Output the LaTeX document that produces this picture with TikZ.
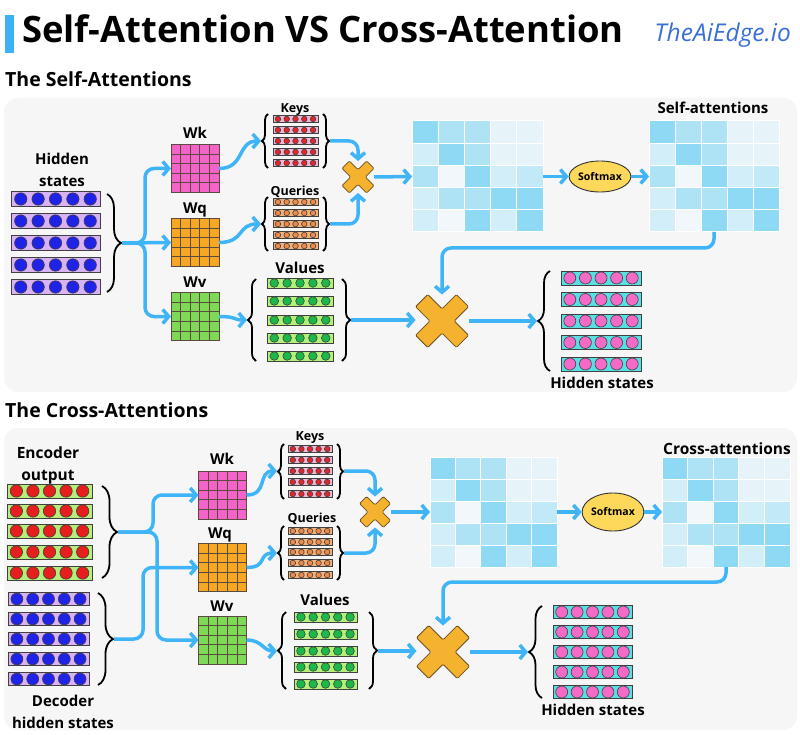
\documentclass[tikz,border=0pt]{standalone}
\usepackage{fontspec}
\setmainfont{Open Sans}
\usetikzlibrary{arrows.meta,calc,decorations.pathreplacing,shapes.geometric}
\definecolor{arrowblue}{HTML}{3FB4F6}
\definecolor{titlebar}{HTML}{3DB1F5}
\definecolor{edgeblue}{HTML}{3A6FD8}
\definecolor{panel}{HTML}{F6F6F6}
\definecolor{matline}{HTML}{5A4A40}
\definecolor{pinkmat}{HTML}{F464C8}
\definecolor{orangemat}{HTML}{F7A823}
\definecolor{greenmat}{HTML}{7ED957}
\definecolor{purplebar}{HTML}{D9B2F5}
\definecolor{bluecirc}{HTML}{1F23E8}
\definecolor{limebar}{HTML}{B5EE7A}
\definecolor{redcirc}{HTML}{E61E1E}
\definecolor{keybar}{HTML}{F0B8D6}
\definecolor{keycirc}{HTML}{E3262B}
\definecolor{qbar}{HTML}{F3B27A}
\definecolor{qcirc}{HTML}{EE8A4A}
\definecolor{vbar}{HTML}{B3F27A}
\definecolor{vcirc}{HTML}{1CB84A}
\definecolor{obar}{HTML}{58DFE3}
\definecolor{ocirc}{HTML}{F56AC6}
\definecolor{softfill}{HTML}{FDD85A}
\definecolor{xfill}{HTML}{F5B22E}
\definecolor{xdraw}{HTML}{6B5020}
\definecolor{sh0}{HTML}{E6F4F9}
\definecolor{sh1}{HTML}{D2EEF8}
\definecolor{sh2}{HTML}{AEE3F5}
\definecolor{sh3}{HTML}{8ED9F3}
\definecolor{sh4}{HTML}{F1F7FA}
\definecolor{sh5}{HTML}{C2E9F7}
% rows of vectors
\newcommand\vrow[8]{%
  \foreach \yy [count=\i] in {#5}{%
    \node[rectangle, draw=black!75, line width=0.8pt, fill=#6, minimum width=#3pt,
          minimum height=#4pt, inner sep=0pt, outer sep=0pt, anchor=west] (#1\i) at (#2,\yy) {};
    \foreach \k in {0,...,4}{%
      \filldraw[draw=black!75, line width=0.6pt, fill=#7]
        ($(#1\i.west)+({#3*(0.11+0.195*\k)},0)$) circle[radius=#8pt];
    }
  }%
}
% weight matrix
\newcommand\wmat[4]{%
  \node[wbox, fill=#4] (#1) at (#2,#3) {};
  \foreach \i in {1,...,4}{%
    \draw[matline, line width=0.8pt] ($(#1.north west)!\i/5!(#1.north east)$) -- ($(#1.south west)!\i/5!(#1.south east)$);
    \draw[matline, line width=0.8pt] ($(#1.north west)!\i/5!(#1.south west)$) -- ($(#1.north east)!\i/5!(#1.south east)$);
  }%
  \draw[matline, line width=0.9pt] (#1.north west) rectangle (#1.south east);
}
% attention matrix
\newcommand\amat[5]{%
  \node[inner sep=0pt, outer sep=0pt, minimum width=#4pt, minimum height=#5pt] (#1) at (#2,#3) {};
  \foreach \row [count=\r from 0] in {{3,2,2,0,0},{1,3,2,0,0},{2,4,3,1,5},{1,2,2,3,3},{1,4,3,1,3}}{%
    \foreach \v [count=\c from 0] in \row {%
      \filldraw[fill=sh\v, draw=white, line width=1pt]
        ($(#1.north west)+({\c*#4/5},{\r*#5/5})$) rectangle ++({#4/5},{#5/5});
    }
  }%
}
% multiplication cross
\newcommand\xmark[4]{%
  \node[circle, inner sep=0pt, outer sep=0pt, minimum size=#4pt] (#1) at (#2,#3) {};
  \pgfmathsetmacro\xs{#4/2*1.4142}
  \pgfmathsetmacro\xt{0.23*\xs}
  \pgfmathsetmacro\xl{0.77*\xs}
  \begin{scope}[shift={(#2,#3)}, rotate=45]
    \filldraw[fill=xfill, draw=xdraw, line width=0.8pt, rounded corners=1.2pt]
      (\xt,\xt) -- (\xl,\xt) -- (\xl,-\xt) -- (\xt,-\xt) -- (\xt,-\xl) -- (-\xt,-\xl) -- (-\xt,-\xt)
      -- (-\xl,-\xt) -- (-\xl,\xt) -- (-\xt,\xt) -- (-\xt,\xl) -- (\xt,\xl) -- cycle;
  \end{scope}
}
\begin{document}
\begin{tikzpicture}[x=1pt,y=-1pt,
  lbl/.style={inner sep=0pt, text height=0.72em, text depth=0pt, yshift=-2.5pt},
  arr/.style={draw=arrowblue, line width=3.5pt, rounded corners=9pt, -{Straight Barb[length=6pt,width=14pt]}},
  brc/.style={draw=black, line width=1.8pt, decorate, decoration={brace, amplitude=#1}},
  wbox/.style={rectangle, minimum width=48pt, minimum height=48pt, inner sep=0pt, outer sep=0pt},
  smx/.style={ellipse, draw=black!80, line width=0.9pt, fill=softfill, inner sep=0pt, font=\bfseries\fontsize{10.5}{12}\selectfont}
]
\useasboundingbox[fill=white] (0,0) rectangle (800,735);
% header
\fill[titlebar] (5,15) rectangle (14,53);
\node[anchor=west, lbl, font=\bfseries\fontsize{36.4}{40}\selectfont] (title) at (22,36) {Self-Attention VS Cross-Attention};
\node[anchor=east, lbl, font=\itshape\fontsize{24.5}{26}\selectfont, text=edgeblue] (brand) at (791,35) {TheAiEdge.io};
\node[anchor=west, lbl, font=\bfseries\fontsize{19.5}{21}\selectfont] (selfhead) at (5,80) {The Self-Attentions};
\node[anchor=west, lbl, font=\bfseries\fontsize{19.5}{21}\selectfont] (crosshead) at (5,411) {The Cross-Attentions};
% panels
\fill[panel, rounded corners=14pt] (4,98) rectangle (797,392);
\fill[panel, rounded corners=14pt] (4,428) rectangle (797,730);

%%%%%%%%%%%%%%%% SELF-ATTENTION %%%%%%%%%%%%%%%%
\node[lbl, font=\bfseries\fontsize{15}{17}\selectfont] (hsl1) at (62,158) {Hidden};
\node[lbl, font=\bfseries\fontsize{15}{17}\selectfont] (hsl2) at (62,180) {states};
\vrow{hs}{11}{89}{15}{199,221,243,265,287}{purplebar}{bluecirc}{6.2}
\draw[brc=14] (107,194) -- (107,292);
\coordinate (hsT) at (122,243);

\wmat{Wk}{195}{168.5}{pinkmat}
\wmat{Wq}{195}{242.5}{orangemat}
\wmat{Wv}{195}{316.5}{greenmat}
\node[lbl, font=\bfseries\fontsize{15}{17}\selectfont] (Wkl) at (195,132) {Wk};
\node[lbl, font=\bfseries\fontsize{15}{17}\selectfont] (Wql) at (195,207) {Wq};
\node[lbl, font=\bfseries\fontsize{15}{17}\selectfont] (Wvl) at (195,281) {Wv};

\draw[arr] (hsT) -- (Wq.west);
\draw[arr] (hsT) -- ++(23,0) |- (Wk.west);
\draw[arr] (hsT) -- ++(23,0) |- (Wv.west);

% keys
\node[lbl, font=\bfseries\fontsize{12.5}{14}\selectfont] (keysl) at (295,106) {Keys};
\vrow{k}{273}{45}{7}{119,130,141,152,163}{keybar}{keycirc}{2.8}
\draw[brc=6] (268,168) -- (268,114);
\draw[brc=6] (323,114) -- (323,168);
\coordinate (kL) at (261,141);
\coordinate (kR) at (330,141);
% queries
\node[lbl, font=\bfseries\fontsize{12.5}{14}\selectfont] (queriesl) at (295,189) {Queries};
\vrow{q}{273}{45}{7}{202,213,224,235,246}{qbar}{qcirc}{2.8}
\draw[brc=6] (268,251) -- (268,197);
\draw[brc=6] (323,197) -- (323,251);
\coordinate (qL) at (261,224);
\coordinate (qR) at (330,224);
% values
\node[lbl, font=\bfseries\fontsize{15}{17}\selectfont] (valuesl) at (300,267) {Values};
\vrow{v}{267}{66}{10}{283,301,320,338,356}{vbar}{vcirc}{4.3}
\draw[brc=8] (256,361) -- (256,279);
\draw[brc=8] (342,279) -- (342,361);
\coordinate (vL) at (247,320);
\coordinate (vR) at (351,320);

\draw[arr] (Wk.east) .. controls +(26,0) and +(-24,0) .. (kL);
\draw[arr] (Wq.east) .. controls +(26,0) and +(-24,0) .. (qL);
\draw[arr] (Wv.east) .. controls +(18,0) and +(-14,0) .. (vL);

\xmark{sx}{358}{177}{32}
\draw[arr] (kR) -| (sx.north);
\draw[arr] (qR) -| (sx.south);

\amat{M1}{477.5}{176.5}{131}{111}
\node[smx, minimum width=60pt, minimum height=31pt] (sm1) at (600,176.5) {Softmax};
\amat{M2}{714}{176.5}{130}{111}
\node[lbl, font=\bfseries\fontsize{15}{17}\selectfont] (sal) at (713,107) {Self-attentions};
\draw[arr] (sx.east) -- (M1.west);
\draw[arr] (M1.east) -- (sm1.west);
\draw[arr] (sm1.east) -- (M2.west);

\xmark{bx}{442}{321}{53}
\draw[arr] (M2.south) -- ++(0,16) -| (bx.north);
\draw[arr] (vR) -- (vR -| bx.west);

% output
\vrow{o}{561}{80}{14}{278,299.5,321,342.5,364}{obar}{ocirc}{6}
\draw[brc=12] (550,371) -- (550,271);
\coordinate (oT) at (537,321);
\node[lbl, font=\bfseries\fontsize{15}{17}\selectfont] (ol) at (602,382) {Hidden states};
\draw[arr] (bx.east) -- (oT);

%%%%%%%%%%%%%%%% CROSS-ATTENTION %%%%%%%%%%%%%%%%
\node[lbl, font=\bfseries\fontsize{15.5}{17}\selectfont] (enl1) at (48,452) {Encoder};
\node[lbl, font=\bfseries\fontsize{15.5}{17}\selectfont] (enl2) at (48,474) {output};
\vrow{e}{7}{85}{14}{491,511,531,552,573}{limebar}{redcirc}{6.2}
\draw[brc=15] (102,486) -- (102,578);
\coordinate (eT) at (118,532);

\vrow{d}{8}{81}{13}{599,619,639,659,679}{purplebar}{bluecirc}{6}
\draw[brc=15] (98,593) -- (98,685);
\coordinate (dT) at (114,639);
\node[lbl, font=\bfseries\fontsize{15}{17}\selectfont] (del1) at (63,700) {Decoder};
\node[lbl, font=\bfseries\fontsize{15}{17}\selectfont] (del2) at (63,722) {hidden states};

\wmat{Wk2}{222.5}{495}{pinkmat}
\wmat{Wq2}{222.5}{567.5}{orangemat}
\wmat{Wv2}{222.5}{640}{greenmat}
\node[lbl, font=\bfseries\fontsize{15}{17}\selectfont] (Wk2l) at (222,458) {Wk};
\node[lbl, font=\bfseries\fontsize{15}{17}\selectfont] (Wq2l) at (220,532) {Wq};
\node[lbl, font=\bfseries\fontsize{15}{17}\selectfont] (Wv2l) at (222,605) {Wv};

\draw[arr] (eT) -- ++(35,0) |- (Wk2.west);
\draw[arr] (eT) -- ++(39,0) |- (Wv2.west);
\draw[arr] (dT) -- ++(29,0) |- (Wq2.west);

% keys
\node[lbl, font=\bfseries\fontsize{12.5}{14}\selectfont] (keys2l) at (310,434) {Keys};
\vrow{kk}{288}{44}{7}{449,460,471,482,494}{keybar}{keycirc}{2.8}
\draw[brc=6] (284,499) -- (284,444);
\draw[brc=6] (337,444) -- (337,499);
\coordinate (k2L) at (277,471);
\coordinate (k2R) at (344,471);
% queries
\node[lbl, font=\bfseries\fontsize{12.5}{14}\selectfont] (queries2l) at (312,516) {Queries};
\vrow{qq}{288}{44}{7}{531,542,552,563,575}{qbar}{qcirc}{2.8}
\draw[brc=6] (284,580) -- (284,526);
\draw[brc=6] (337,526) -- (337,580);
\coordinate (q2L) at (277,553);
\coordinate (q2R) at (344,553);
% values
\node[lbl, font=\bfseries\fontsize{15}{17}\selectfont] (values2l) at (325,599) {Values};
\vrow{vv}{294}{63}{10}{617,634,651,667,684}{vbar}{vcirc}{4.3}
\draw[brc=8] (286,689) -- (286,612);
\draw[brc=8] (369,612) -- (369,689);
\coordinate (v2L) at (277,651);
\coordinate (v2R) at (378,651);

\draw[arr] (Wk2.east) .. controls +(22,0) and +(-20,0) .. (k2L);
\draw[arr] (Wq2.east) .. controls +(22,0) and +(-20,0) .. (q2L);
\draw[arr] (Wv2.east) .. controls +(16,0) and +(-14,0) .. (v2L);

\xmark{sx2}{375}{512}{31}
\draw[arr] (k2R) -| (sx2.north);
\draw[arr] (q2R) -| (sx2.south);

\amat{M3}{493.5}{512}{127}{110}
\node[smx, minimum width=59pt, minimum height=38pt] (sm2) at (613,512) {Softmax};
\amat{M4}{726}{512}{128}{110}
\node[lbl, font=\bfseries\fontsize{15.5}{17}\selectfont] (cal) at (727,448) {Cross-attentions};
\draw[arr] (sx2.east) -- (M3.west);
\draw[arr] (M3.east) -- (sm2.west);
\draw[arr] (sm2.east) -- (M4.west);

\xmark{bx2}{443}{652}{53}
\draw[arr] (M4.south) -- ++(0,15) -| (bx2.north);
\draw[arr] (v2R) -- (v2R -| bx2.west);

\vrow{oo}{553}{79}{13}{612,632,652,672,692}{obar}{ocirc}{6}
\draw[brc=13] (542,698) -- (542,606);
\coordinate (o2T) at (528,652);
\node[lbl, font=\bfseries\fontsize{15}{17}\selectfont] (o2l) at (593,709) {Hidden states};
\draw[arr] (bx2.east) -- (o2T);
\end{tikzpicture}
\end{document}
